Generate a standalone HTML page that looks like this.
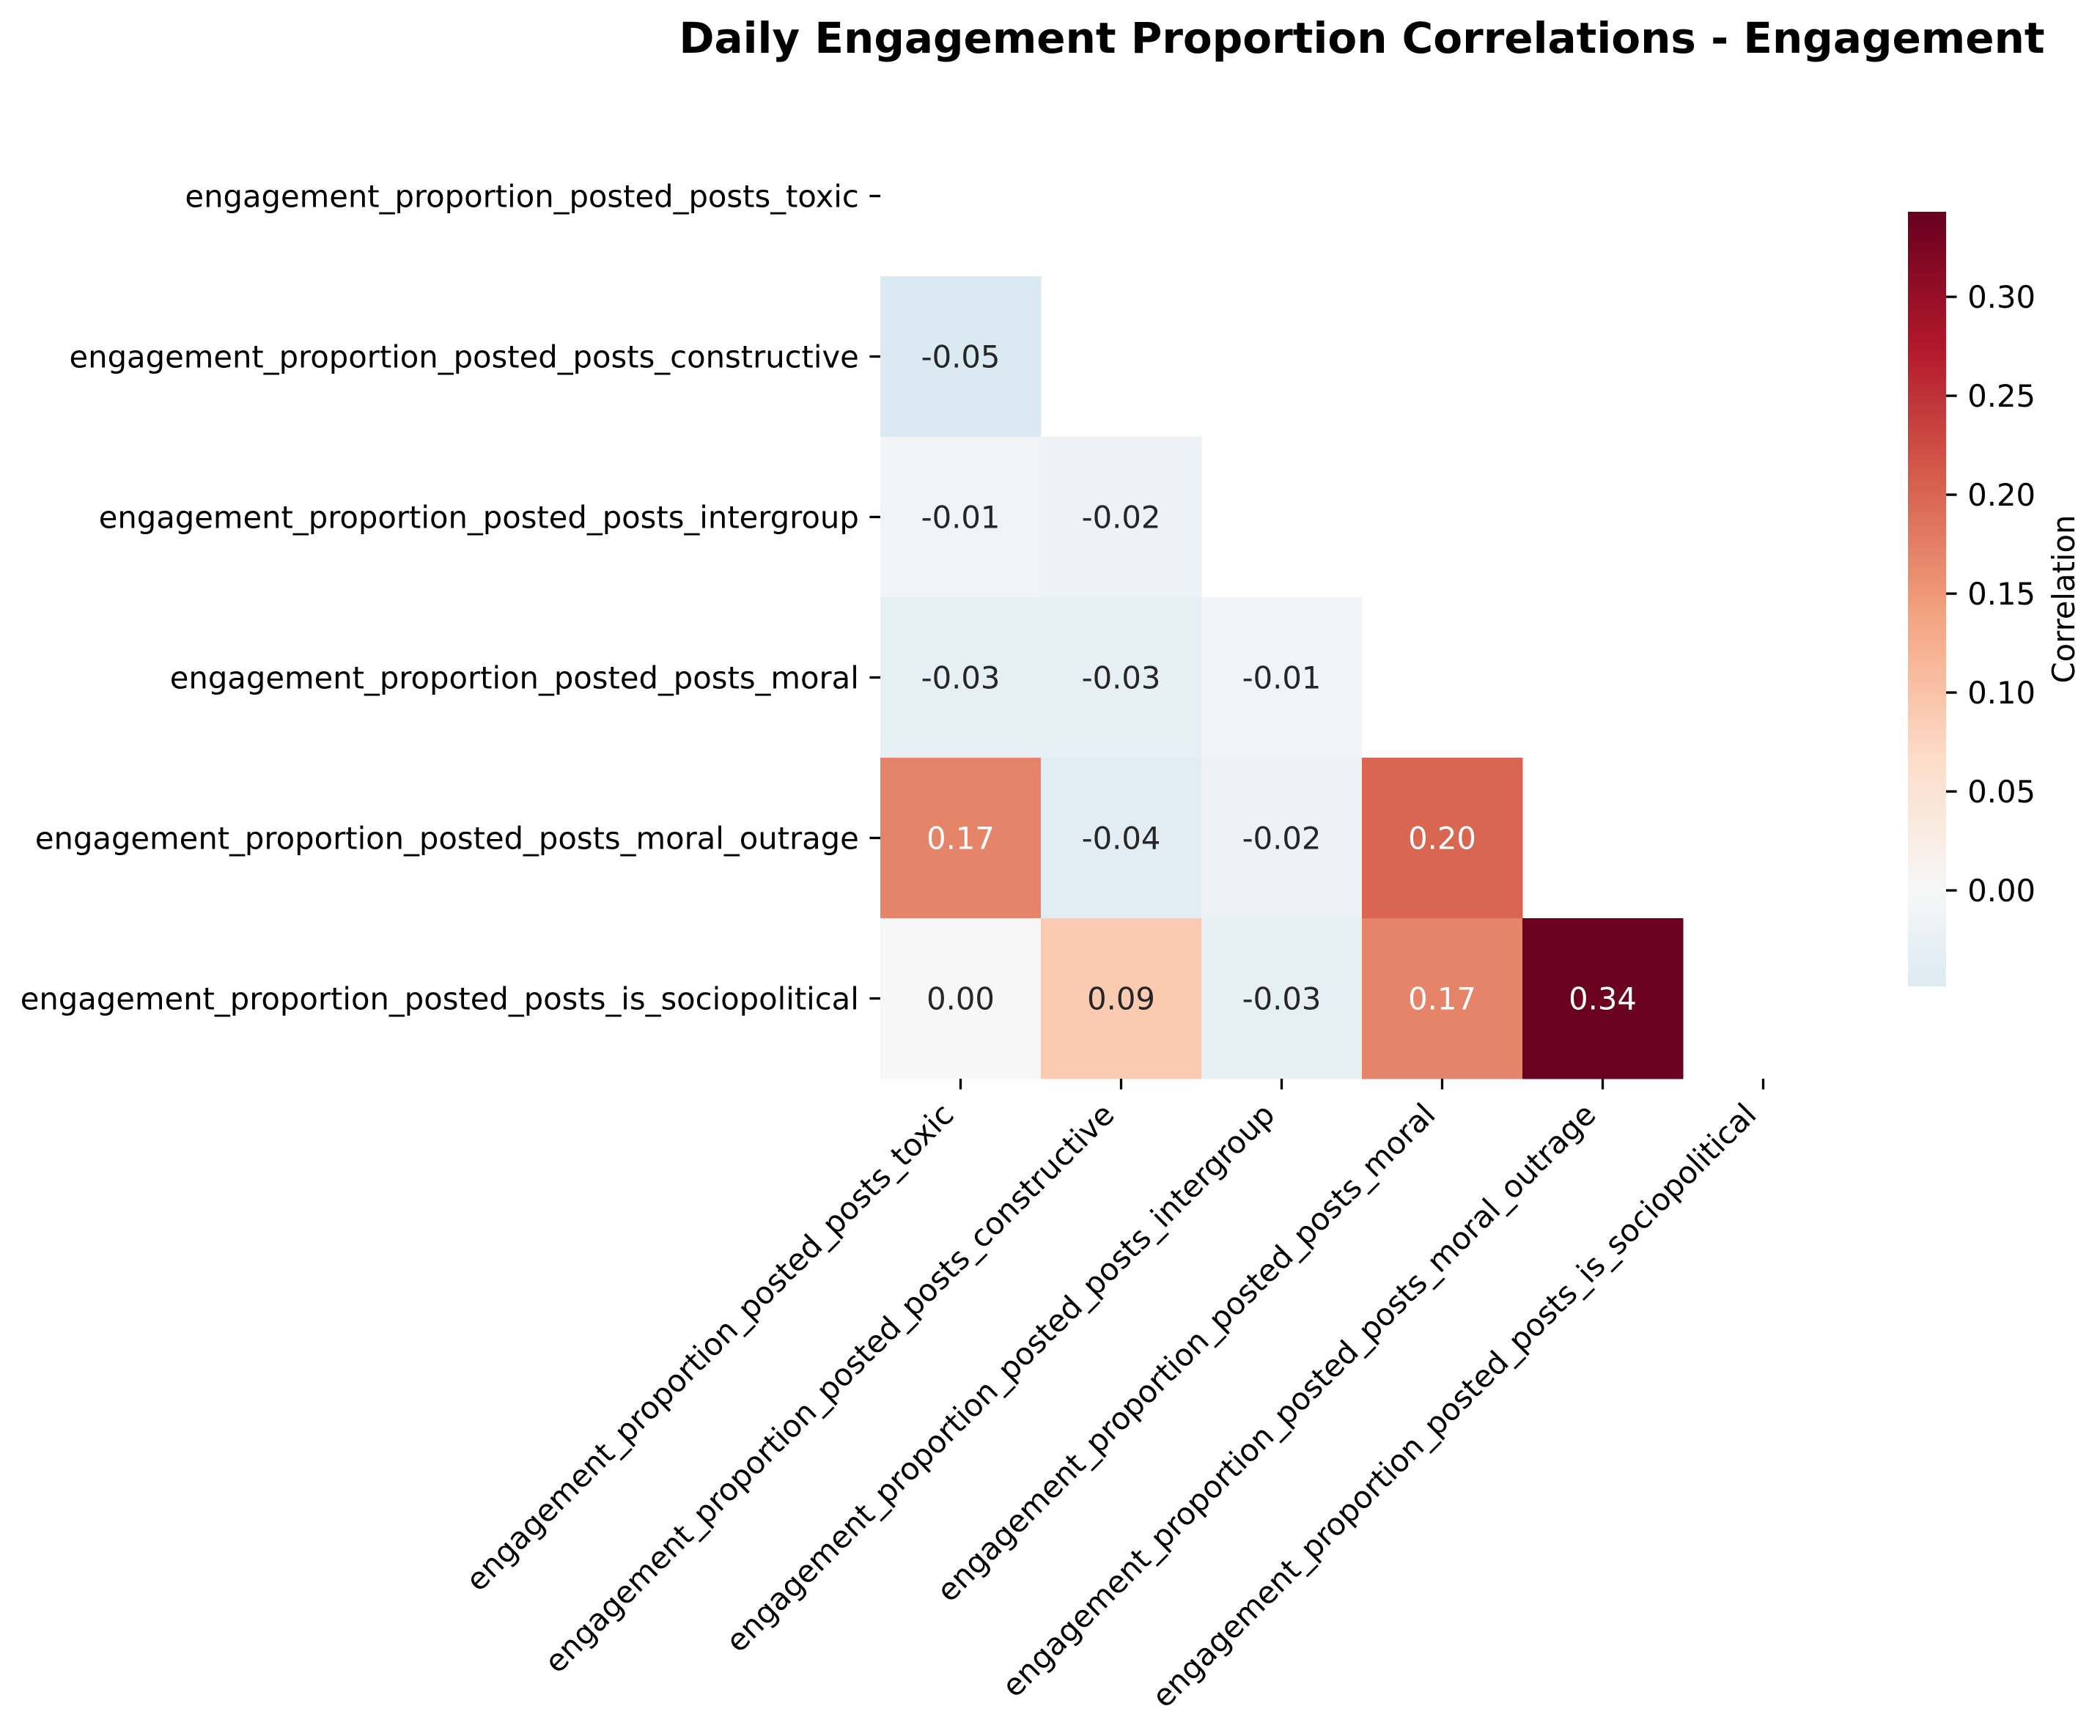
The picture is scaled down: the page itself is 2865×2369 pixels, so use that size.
<!DOCTYPE html>
<html><head><meta charset="utf-8"><style>
html,body{margin:0;padding:0;background:#fff;}
svg{display:block;font-family:"DejaVu Sans","Liberation Sans",sans-serif;}
</style></head>
<body>
<svg id="chart" width="2865" height="2369" viewBox="0 0 2865 2369" xmlns="http://www.w3.org/2000/svg">
<rect width="2865" height="2369" fill="#fff"/>
<text x="1858" y="72" text-anchor="middle" font-size="58" font-weight="bold" fill="#000">Daily Engagement Proportion Correlations - Engagement</text>
<g id="cells"></g><g id="yaxis"></g><g id="xaxis"></g>
<defs><linearGradient id="cbgrad" x1="0" y1="1" x2="0" y2="0"></linearGradient></defs>
<g id="cbar"></g>
</svg>
<script>
const labels = ["engagement_proportion_posted_posts_toxic","engagement_proportion_posted_posts_constructive","engagement_proportion_posted_posts_intergroup","engagement_proportion_posted_posts_moral","engagement_proportion_posted_posts_moral_outrage","engagement_proportion_posted_posts_is_sociopolitical"];
const row1 = [-0.05];
const row2 = [-0.01,-0.02];
const row3 = [-0.03,-0.03,-0.01];
const row4 = [0.17,-0.04,-0.02,0.20];
const row5 = [0.00,0.09,-0.03,0.17,0.34];
const rows = [[], row1, row2, row3, row4, row5];
const cbTicks = [0.00,0.05,0.10,0.15,0.20,0.25,0.30];

const NS = "http://www.w3.org/2000/svg";
const FS = 41.7, TL = 14.6, TW = 3.3;
const X0 = 1201, Y0 = 158, CELL = 219;
const all = rows.flat();
const vmax = Math.max(...all) + 0.003, vmin = Math.min(...all) + 0.0015;
const span = Math.max(Math.abs(vmax), Math.abs(vmin));
const stops = ["#053061","#2166ac","#4393c3","#92c5de","#d1e5f0","#f7f7f7","#fddbc7","#f4a582","#d6604d","#b2182b","#67001f"].map(h=>[parseInt(h.slice(1,3),16),parseInt(h.slice(3,5),16),parseInt(h.slice(5,7),16)]);
function cmap(v){
  let t=(v+span)/(2*span); t=Math.max(0,Math.min(1,t));
  const p=t*10, i=Math.min(9,Math.floor(p)), f=p-i;
  return stops[i].map((a,k)=>Math.round(a+(stops[i+1][k]-a)*f));
}
function rgb(c){return `rgb(${c[0]},${c[1]},${c[2]})`;}
function relLum(c){const l=c.map(x=>{x/=255;return x<=0.03928?x/12.92:Math.pow((x+0.055)/1.055,2.4);});return 0.2126*l[0]+0.7152*l[1]+0.0722*l[2];}
function mk(tag, attrs, parent){const e=document.createElementNS(NS,tag);for(const k in attrs)e.setAttribute(k,attrs[k]);parent.appendChild(e);return e;}
const xPos = i => X0 + i*CELL;
const yPos = j => Y0 + j*CELL;

const cells=document.getElementById('cells');
rows.forEach((r,j)=>r.forEach((v,i)=>{
  const c=cmap(v);
  const rect=mk('rect',{x:xPos(i),y:yPos(j),width:CELL+0.5,height:CELL+0.5,fill:rgb(c)},cells);
  
  
  const t=mk('text',{x:xPos(i)+CELL/2,y:yPos(j)+CELL/2+15,'text-anchor':'middle','font-size':FS,fill:relLum(c)>0.408?'#262626':'#fff'},cells);
  t.textContent=v.toFixed(2);
  
  
}));

const ya=document.getElementById('yaxis');
labels.forEach((l,j)=>{
  const y=yPos(j)+CELL/2;
  const tk=mk('line',{x1:X0-TL,x2:X0,y1:y,y2:y,stroke:'#000','stroke-width':TW},ya);
  
  
  const t=mk('text',{x:X0-TL-14.6,y:y+15,'text-anchor':'end','font-size':FS,fill:'#000'},ya);
  t.textContent=l;
  
  
});
const xa=document.getElementById('xaxis');
const YB=Y0+6*CELL;
labels.forEach((l,i)=>{
  const x=xPos(i)+CELL/2;
  const tk=mk('line',{x1:x,x2:x,y1:YB,y2:YB+TL,stroke:'#000','stroke-width':TW},xa);
  
  
  const ax=x-7, ay=YB+TL+14.6+22.4;
  const t=mk('text',{x:ax,y:ay,'text-anchor':'end','font-size':FS,fill:'#000',transform:`rotate(-45 ${ax} ${ay})`},xa);
  t.textContent=l;
  
  
});

// colorbar
const CB_X=2603, CB_W=52, CB_T=289, CB_B=1346;
const cbY=v=>CB_B-(v-vmin)/(vmax-vmin)*(CB_B-CB_T);
const grad=document.getElementById('cbgrad');
for(let k=0;k<=40;k++){
  const v=vmin+(vmax-vmin)*k/40;
  mk('stop',{offset:(k/40).toFixed(3),'stop-color':rgb(cmap(v))},grad);
}
const cb=document.getElementById('cbar');
const cbr=mk('rect',{x:CB_X,y:CB_T,width:CB_W,height:CB_B-CB_T,fill:'url(#cbgrad)'},cb);


cbTicks.forEach(v=>{
  const y=cbY(v);
  const tk=mk('line',{x1:CB_X+CB_W,x2:CB_X+CB_W+TL,y1:y,y2:y,stroke:'#000','stroke-width':TW},cb);
  
  
  const t=mk('text',{x:CB_X+CB_W+TL+14.6,y:y+15,'font-size':FS,fill:'#000'},cb);
  t.textContent=v.toFixed(2);
  
  
});
const cl=mk('text',{x:2830,y:(CB_T+CB_B)/2,'text-anchor':'middle','font-size':FS,fill:'#000',transform:`rotate(-90 2830 ${(CB_T+CB_B)/2})`},cb);
cl.textContent='Correlation';


</script>
</body></html>
